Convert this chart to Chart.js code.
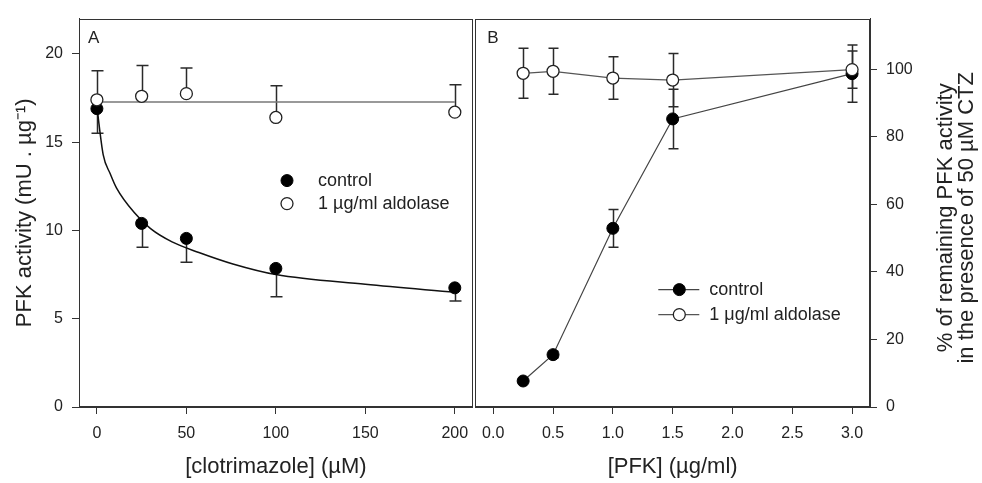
<!DOCTYPE html>
<html>
<head>
<meta charset="utf-8">
<script src="https://cdn.jsdelivr.net/npm/chart.js@4.4.1/dist/chart.umd.min.js"></script>
<style>
  body { margin: 0; background: #fff; }
  #wrapA { position: absolute; left: 0; top: 0; }
  #wrapB { position: absolute; left: 468px; top: 0; }
</style>
</head>
<body>
<div id="wrapA"><canvas id="chartA" width="480" height="483"></canvas></div>
<div id="wrapB"><canvas id="chartB" width="514" height="483"></canvas></div>
<script>
// ---- panel A : PFK activity vs clotrimazole ----
var clotrimazole = [0, 25, 50, 100, 200];
var controlA = [16.9, 10.4, 9.55, 7.85, 6.75];
var controlErrA = [1.4, 1.35, 1.35, 1.6, 0.75];     // drawn downwards only
var aldolaseA = [17.4, 17.6, 17.75, 16.4, 16.7];
var aldolaseErrA = [1.65, 1.75, 1.45, 1.8, 1.55];   // drawn upwards only
var fitX = [0, 3.5, 7.5, 11, 21, 30, 42, 57, 76, 100, 150, 200];
var fitY = [17.0, 14.3, 13.2, 12.4, 11.0, 10.1, 9.35, 8.75, 8.1, 7.5, 6.95, 6.5];
var meanX = [0, 200];
var meanY = [17.27, 17.27];
var xTicksA = [0, 50, 100, 150, 200];
var yTicksA = [0, 5, 10, 15, 20];

// ---- panel B : % remaining activity vs [PFK] ----
var pfk = [0.25, 0.5, 1.0, 1.5, 3.0];
var controlB = [7.7, 15.5, 52.9, 85.3, 98.7];
var controlErrB = [0, 1.0, 5.6, 8.8, 8.5];
var aldolaseB = [98.8, 99.4, 97.4, 96.8, 99.9];
var aldolaseErrB = [7.4, 6.8, 6.3, 7.9, 5.5];
var xTicksB = [0, 0.5, 1.0, 1.5, 2.0, 2.5, 3.0];
var yTicksB = [0, 20, 40, 60, 80, 100];

var zeros = [0, 0, 0, 0, 0];

Chart.defaults.font.family = '"Liberation Sans", Arial, sans-serif';
Chart.defaults.color = '#222';

function pts(xs, ys) {
  return xs.map(function(x, i) { return {x: x, y: ys[i]}; });
}
function fixTicks(list) {
  return function(scale) { scale.ticks = list.map(function(v) { return {value: v}; }); };
}

// error bars, frame, panel letter, legend, rotated right title
var extras = {
  id: 'extras',
  beforeDatasetsDraw: function(chart, args, o) {
    var ctx = chart.ctx, xs = chart.scales.x, ys = chart.scales.y;
    ctx.save();
    ctx.strokeStyle = '#2a2a2a';
    ctx.lineWidth = 1.5;
    o.errors.forEach(function(e) {
      for (var i = 0; i < e.x.length; i++) {
        if (!e.up[i] && !e.down[i]) continue;
        var px = Math.round(xs.getPixelForValue(e.x[i])) + 0.5;
        var top = ys.getPixelForValue(e.y[i] + e.up[i]);
        var bot = ys.getPixelForValue(e.y[i] - e.down[i]);
        ctx.beginPath();
        ctx.moveTo(px, top);
        ctx.lineTo(px, bot);
        if (e.up[i]) { ctx.moveTo(px - o.cap, top); ctx.lineTo(px + o.cap, top); }
        if (e.down[i]) { ctx.moveTo(px - o.cap, bot); ctx.lineTo(px + o.cap, bot); }
        ctx.stroke();
      }
    });
    ctx.restore();
  },
  afterDraw: function(chart, args, o) {
    var ctx = chart.ctx, a = chart.chartArea;
    ctx.save();
    ctx.strokeStyle = '#333';
    ctx.lineWidth = 1;
    var l = Math.round(a.left) + 0.5, r = Math.round(a.right) - 0.5;
    var t = Math.round(a.top) + 0.5, b = Math.round(a.bottom) - 0.5;
    ctx.strokeRect(l, t, r - l, b - t);

    ctx.fillStyle = '#222';
    ctx.textBaseline = 'middle';
    ctx.textAlign = 'left';
    ctx.font = '17px "Liberation Sans", Arial, sans-serif';
    ctx.fillText(o.letter, a.left + o.letterDx, a.top + 20);

    ctx.font = '18px "Liberation Sans", Arial, sans-serif';
    o.legend.forEach(function(k, i) {
      var ds = chart.data.datasets[k];
      var y = a.top + o.legendY + i * o.legendGap;
      var mx = a.left + o.legendX;
      if (o.legendLine) {
        ctx.strokeStyle = ds.borderColor;
        ctx.lineWidth = ds.borderWidth;
        ctx.beginPath();
        ctx.moveTo(mx - 21, y);
        ctx.lineTo(mx + 20, y);
        ctx.stroke();
      }
      ctx.beginPath();
      ctx.arc(mx, y, ds.pointRadius, 0, Math.PI * 2);
      ctx.fillStyle = ds.pointBackgroundColor;
      ctx.fill();
      ctx.strokeStyle = ds.pointBorderColor;
      ctx.lineWidth = ds.pointBorderWidth || 1;
      ctx.stroke();
      ctx.fillStyle = '#222';
      ctx.fillText(ds.label, mx + o.legendText, y);
    });

    if (o.rightTitle) {
      ctx.font = '22px "Liberation Sans", Arial, sans-serif';
      ctx.textAlign = 'center';
      o.rightTitle.forEach(function(line, i) {
        ctx.save();
        ctx.translate(a.right + 76 + i * 21, (a.top + a.bottom) / 2 + 5);
        ctx.rotate(-Math.PI / 2);
        ctx.fillText(line, 0, 0);
        ctx.restore();
      });
    }
    ctx.restore();
  }
};

function axis(extra) {
  var base = {
    type: 'linear',
    grid: { drawOnChartArea: false, tickLength: 7, tickColor: '#333', tickWidth: 1 },
    border: { color: '#333', width: 1 },
    ticks: { padding: 9, color: '#222', font: { size: 16 } }
  };
  return Object.assign(base, extra);
}

new Chart(document.getElementById('chartA'), {
  type: 'scatter',
  data: {
    datasets: [
      { label: '1 µg/ml aldolase', data: pts(clotrimazole, aldolaseA), pointRadius: 6,
        pointBackgroundColor: '#fff', pointBorderColor: '#222', pointBorderWidth: 1.3, showLine: false, order: 0 },
      { label: 'control', data: pts(clotrimazole, controlA), pointRadius: 6,
        pointBackgroundColor: '#000', pointBorderColor: '#000', pointBorderWidth: 1, showLine: false, order: 1 },
      { label: 'fit', data: pts(fitX, fitY), showLine: true, borderColor: '#111', borderWidth: 1.5,
        pointRadius: 0, cubicInterpolationMode: 'monotone', order: 2 },
      { label: 'mean', data: pts(meanX, meanY), showLine: true, borderColor: '#777', borderWidth: 1.5,
        pointRadius: 0, order: 3 }
    ]
  },
  options: {
    responsive: false,
    animation: false,
    layout: { padding: { top: 12, right: 6, left: 0, bottom: 0 } },
    scales: {
      x: axis({
        min: -10, max: 210,
        afterBuildTicks: fixTicks(xTicksA),
        ticks: { padding: 10, color: '#222', font: { size: 16 } },
        title: { display: true, text: '[clotrimazole] (µM)', font: { size: 22 }, color: '#222', padding: { top: 0, bottom: 3 } },
        afterFit: function(s) { s.height = 76; }
      }),
      y: axis({
        min: 0, max: 22,
        afterBuildTicks: fixTicks(yTicksA),
        title: { display: true, text: 'PFK activity (mU . µg⁻¹)', font: { size: 22 }, color: '#222', padding: { top: 12, bottom: 0 } },
        afterFit: function(s) { s.width = 79; }
      })
    },
    plugins: {
      legend: { display: false },
      tooltip: { enabled: false },
      extras: {
        cap: 6,
        errors: [
          { x: clotrimazole, y: controlA, up: zeros, down: controlErrA },
          { x: clotrimazole, y: aldolaseA, up: aldolaseErrA, down: zeros }
        ],
        letter: 'A', letterDx: 9,
        legend: [1, 0], legendX: 208, legendY: 162, legendGap: 23, legendText: 31, legendLine: false
      }
    }
  },
  plugins: [extras]
});

new Chart(document.getElementById('chartB'), {
  type: 'scatter',
  data: {
    datasets: [
      { label: '1 μg/ml aldolase', data: pts(pfk, aldolaseB), showLine: true, borderColor: '#555', borderWidth: 1.3,
        pointRadius: 6, pointBackgroundColor: '#fff', pointBorderColor: '#222', pointBorderWidth: 1.3, order: 0 },
      { label: 'control', data: pts(pfk, controlB), showLine: true, borderColor: '#444', borderWidth: 1.2,
        pointRadius: 6, pointBackgroundColor: '#000', pointBorderColor: '#000', pointBorderWidth: 1, order: 1 }
    ]
  },
  options: {
    responsive: false,
    animation: false,
    layout: { padding: { top: 12, right: 0, left: 6, bottom: 0 } },
    scales: {
      x: axis({
        min: -0.15, max: 3.15,
        afterBuildTicks: fixTicks(xTicksB),
        ticks: { padding: 10, color: '#222', font: { size: 16 }, callback: function(v) { return v.toFixed(1); } },
        title: { display: true, text: '[PFK] (µg/ml)', font: { size: 22 }, color: '#222', padding: { top: 0, bottom: 3 } },
        afterFit: function(s) { s.height = 76; }
      }),
      y: axis({
        position: 'right',
        min: 0, max: 115,
        afterBuildTicks: fixTicks(yTicksB),
        afterFit: function(s) { s.width = 112; }
      })
    },
    plugins: {
      legend: { display: false },
      tooltip: { enabled: false },
      extras: {
        cap: 5,
        errors: [
          { x: pfk, y: controlB, up: controlErrB, down: controlErrB },
          { x: pfk, y: aldolaseB, up: aldolaseErrB, down: aldolaseErrB }
        ],
        letter: 'B', letterDx: 12,
        legend: [1, 0], legendX: 204, legendY: 271, legendGap: 25, legendText: 30, legendLine: true,
        rightTitle: ['% of remaining PFK activity', 'in the presence of 50 µM CTZ']
      }
    }
  },
  plugins: [extras]
});
</script>
</body>
</html>
